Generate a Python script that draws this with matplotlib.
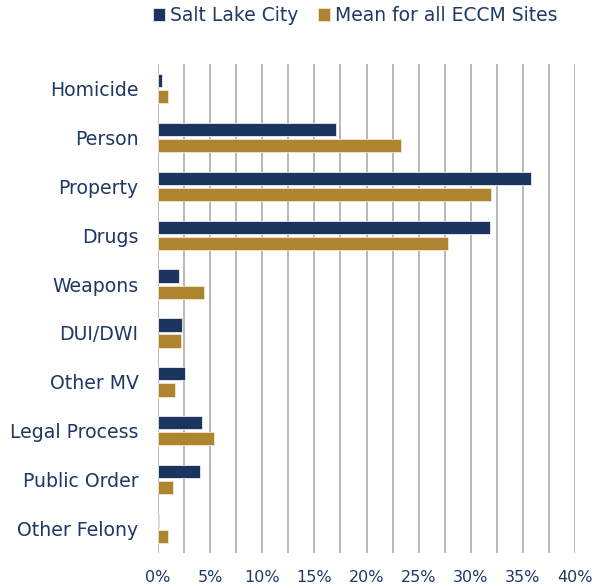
import matplotlib
matplotlib.use("Agg")
import matplotlib.pyplot as plt
from matplotlib.ticker import MultipleLocator, FuncFormatter
import numpy as np

categories = ["Homicide", "Person", "Property", "Drugs", "Weapons", "DUI/DWI",
              "Other MV", "Legal Process", "Public Order", "Other Felony"]
salt_lake = [0.4, 17.1, 35.8, 31.8, 2.0, 2.3, 2.55, 4.2, 4.05, 0.05]
eccm_mean = [1.0, 23.3, 31.9, 27.8, 4.4, 2.2, 1.6, 5.4, 1.4, 1.0]
series_names = ["Salt Lake City", "Mean for all ECCM Sites"]

navy = "#1C355E"
gold = "#AD842F"
text_col = "#1F3864"

fig = plt.figure(figsize=(5.92, 5.88), dpi=100)
ax = fig.add_axes([0.2669, 0.0595, 0.7044, 0.8315])

y = np.arange(len(categories))
h = 0.27
off = 0.165
ax.barh(y - off, salt_lake, height=h, color=navy, edgecolor="#E8ECF2", linewidth=0.6,
        label=series_names[0], zorder=3)
ax.barh(y + off, eccm_mean, height=h, color=gold, edgecolor="#F3E6CC", linewidth=0.6,
        label=series_names[1], zorder=3)

ax.set_ylim(len(categories) - 0.5, -0.5)
ax.set_xlim(0, 40)
ax.set_yticks(y)
ax.set_yticklabels(categories)
ax.xaxis.set_major_locator(MultipleLocator(5))
ax.xaxis.set_minor_locator(MultipleLocator(2.5))
ax.xaxis.set_major_formatter(FuncFormatter(lambda v, p: f"{v:.0f}%"))
ax.grid(axis="x", which="both", color="#ABABAB", linewidth=1.2, zorder=0)
ax.set_axisbelow(True)
for s in ax.spines.values():
    s.set_visible(False)
ax.tick_params(axis="both", which="both", length=0)
ax.tick_params(axis="y", pad=14, labelsize=13.6, labelcolor=text_col)
ax.tick_params(axis="x", pad=12, labelsize=11.5, labelcolor=text_col)

fig.legend(loc="upper center", bbox_to_anchor=(0.6, 1.018), ncol=2, frameon=False,
           fontsize=13.5, handlelength=0.65, handleheight=0.65, handletextpad=0.3,
           columnspacing=1.0, labelcolor=text_col)

fig.savefig("out.png", dpi=100)
